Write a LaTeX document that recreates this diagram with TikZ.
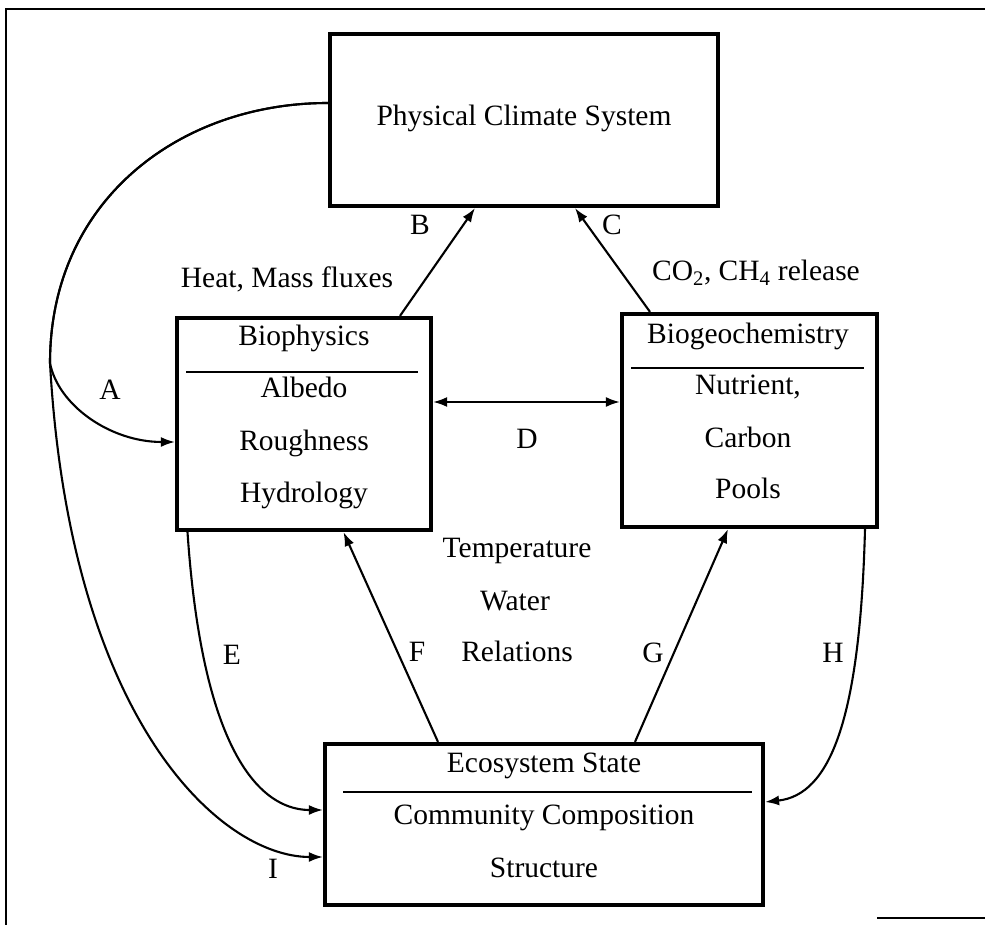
\documentclass[tikz,border=0pt]{standalone}
\usepackage{fontspec}
\setmainfont{Liberation Serif}
\usetikzlibrary{arrows.meta}
\begin{document}
\begin{tikzpicture}[x=1pt,y=-1pt,
  every node/.style={font=\fontsize{29.5}{34}\selectfont, inner sep=0pt},
  box/.style={draw, line width=4.2pt, rectangle},
  lbl/.style={anchor=base},
  tipstyle/.style={},
  conn/.style={line width=2.1pt, -{Latex[length=14pt,width=10pt]}},
  sep/.style={line width=1.8pt},
  frame/.style={line width=1.8pt}
]
\useasboundingbox (0,0) rectangle (985,925);
% frame
\coordinate (f1) at (6,925);
\coordinate (f2) at (6,9);
\coordinate (f3) at (985,9);
\coordinate (f4) at (877,918);
\coordinate (f5) at (985,918);
\draw[frame] (f1) -- (f2) -- (f3);
\draw[frame] (f4) -- (f5);

% boxes
\node[box, minimum width=388pt, minimum height=172pt] (phys) at (524,120) {};
\node[box, minimum width=254pt, minimum height=212pt] (bio) at (304,424) {};
\node[box, minimum width=255pt, minimum height=213pt] (geo) at (749.5,420.5) {};
\node[box, minimum width=438pt, minimum height=161pt] (eco) at (544,824.5) {};

% box texts
\node[lbl] (physT) at (524,126) {Physical Climate System};
\node[lbl] (bioT1) at (304,345) {Biophysics};
\node[lbl] (bioT2) at (304,397) {Albedo};
\node[lbl] (bioT3) at (304,450) {Roughness};
\node[lbl] (bioT4) at (304,502) {Hydrology};
\node[lbl] (geoT1) at (748,343) {Biogeochemistry};
\node[lbl] (geoT2) at (748,394) {Nutrient,};
\node[lbl] (geoT3) at (748,447) {Carbon};
\node[lbl] (geoT4) at (748,498) {Pools};
\node[lbl] (ecoT1) at (544,772) {Ecosystem State};
\node[lbl] (ecoT2) at (544,824) {Community Composition};
\node[lbl] (ecoT3) at (544,877) {Structure};

% separators
\coordinate (bs1) at (186,372); \coordinate (bs2) at (418,372);
\coordinate (gs1) at (631,368); \coordinate (gs2) at (864,368);
\coordinate (es1) at (343,792); \coordinate (es2) at (752,792);
\draw[sep] (bs1) -- (bs2);
\draw[sep] (gs1) -- (gs2);
\draw[sep] (es1) -- (es2);

% connectors
% B, C
\draw[conn] ([xshift=96pt]bio.north) -- ([xshift=-49pt]phys.south);
\draw[conn] ([xshift=-99.5pt]geo.north) -- ([xshift=51pt]phys.south);
% D
\draw[line width=2.1pt, {Latex[length=14pt,width=10pt]}-{Latex[length=14pt,width=10pt]}]
  ([yshift=22pt]bio.east) -- ([yshift=22pt]bio.east -| geo.west);
% F, G
\draw[conn] ([xshift=-106pt]eco.north) -- ([xshift=39.5pt]bio.south);
\draw[conn] ([xshift=91pt]eco.north) -- ([xshift=-21.5pt]geo.south);
% A
\coordinate (split) at (50,363);
\draw[conn] ([yshift=17pt]phys.west) .. controls (180,103) and (50,200) .. (split)
  .. controls (58,405) and (110,442) .. ([yshift=-18pt]bio.west);
% I
\draw[conn] ([yshift=17pt]phys.west) .. controls (180,103) and (50,200) .. (split)
  .. controls (70,720) and (220,857) .. ([yshift=-32.5pt]eco.west);
% E
\draw[conn] ([xshift=-116.5pt]bio.south) .. controls (205,790) and (280,810) .. ([yshift=14.5pt]eco.west);
% H
\draw[conn] ([xshift=115.5pt]geo.south) .. controls (860,720) and (830,795) .. ([yshift=22.5pt]eco.east);

% labels
\node[lbl] (lA) at (110,399) {A};
\node[lbl] (lB) at (420,235) {B};
\node[lbl] (lC) at (612,235) {C};
\node[lbl] (lD) at (527,448) {D};
\node[lbl] (lE) at (232,664) {E};
\node[lbl] (lF) at (417,661) {F};
\node[lbl] (lG) at (653,662) {G};
\node[lbl] (lH) at (833,662) {H};
\node[lbl] (lI) at (273,878) {I};
\node[lbl] (heat) at (287,288) {Heat, Mass fluxes};
\node[lbl] (co2) at (756,280) {CO\textsubscript{2}, CH\textsubscript{4} release};
\node[lbl] (t1) at (517,557) {Temperature};
\node[lbl] (t2) at (515,610) {Water};
\node[lbl] (t3) at (517,661) {Relations};
\end{tikzpicture}
\end{document}
